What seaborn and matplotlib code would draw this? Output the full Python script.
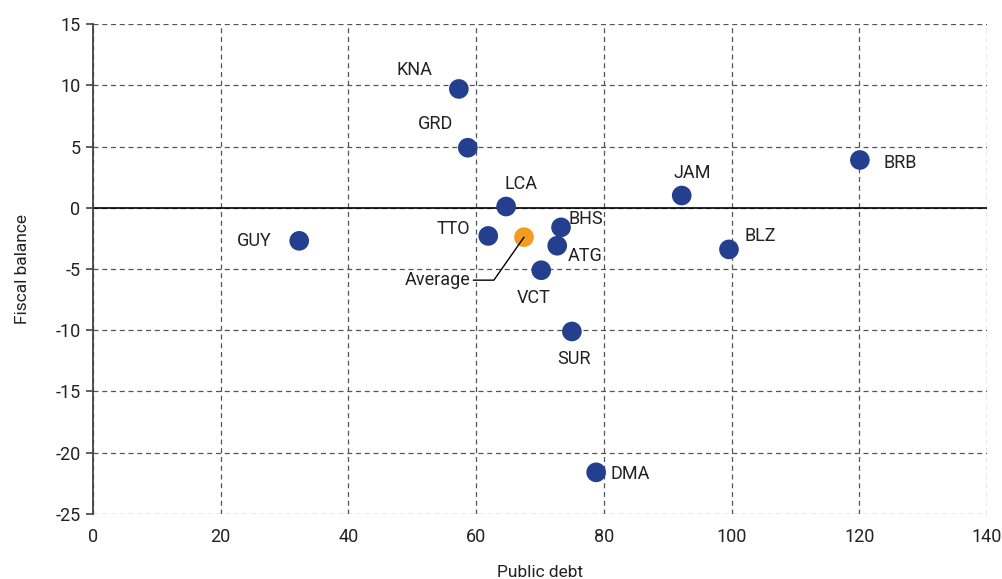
import seaborn as sns
import pandas as pd
from matplotlib import pyplot as plt

# data
countries = ['KNA', 'GRD', 'LCA', 'TTO', 'BHS', 'ATG', 'VCT', 'SUR', 'DMA', 'JAM', 'BLZ', 'BRB', 'GUY']
public_debt = [57.3, 58.7, 64.7, 61.9, 73.3, 72.7, 70.2, 75.0, 78.8, 92.2, 99.6, 120.1, 32.3]
fiscal_balance = [9.7, 4.9, 0.1, -2.3, -1.6, -3.1, -5.1, -10.1, -21.6, 1.0, -3.4, 3.9, -2.7]
avg_debt = 67.5
avg_balance = -2.4

# label offsets (pixels) from the dots
offsets = {'KNA': (-44, 19), 'GRD': (-32, 24), 'LCA': (15, 23), 'TTO': (-35, 7),
           'BHS': (25, 8), 'ATG': (28, -10), 'VCT': (-8, -28), 'SUR': (2, -28),
           'DMA': (34, -2), 'JAM': (11, 23), 'BLZ': (31, 13), 'BRB': (40, -3),
           'GUY': (-45, 0)}

df = pd.DataFrame({'country': countries, 'debt': public_debt, 'balance': fiscal_balance})

sns.set_style('white')
plt.rcParams['font.family'] = ['Roboto', 'DejaVu Sans']
plt.rcParams['axes.unicode_minus'] = False

fig = plt.figure(figsize=(10.03, 5.79), dpi=100)
ax = fig.add_axes([0.0927, 0.1123, 0.8913, 0.8462])

blue = '#243f8e'
orange = '#f39c1f'

sns.scatterplot(data=df, x='debt', y='balance', ax=ax, color=blue, s=200,
                edgecolor='none', zorder=3)
sns.scatterplot(x=[avg_debt], y=[avg_balance], ax=ax, color=orange, s=200,
                edgecolor='none', zorder=3)

for c, x, y in zip(countries, public_debt, fiscal_balance):
    dx, dy = offsets[c]
    ax.annotate(c, (x, y), xytext=(dx, dy), textcoords='offset pixels',
                ha='center', va='center', fontsize=13, color='#222222')

ax.annotate('Average', (avg_debt, avg_balance), xytext=(-54, -43), textcoords='offset pixels',
            ha='right', va='center', fontsize=13, color='#222222',
            arrowprops=dict(arrowstyle='-', color='black', lw=1,
                            connectionstyle='angle,angleA=0,angleB=55,rad=0',
                            shrinkA=0, shrinkB=0))

ax.set_xlim(0, 140)
ax.set_ylim(-25, 15)
ax.set_xticks(range(0, 141, 20))
ax.set_yticks(range(-25, 16, 5))
ax.grid(True, linestyle=(0, (4, 3)), color='#555555', lw=0.9)
ax.axhline(0, color='black', lw=1.2, zorder=2)

for side in ['top', 'right', 'bottom']:
    ax.spines[side].set_visible(False)
ax.spines['left'].set_color('#444444')
ax.spines['left'].set_linewidth(1.3)

ax.tick_params(axis='y', length=5, width=1.2, color='#444444', labelsize=13, pad=4, left=True)
ax.tick_params(axis='x', length=0, labelsize=13, pad=10)
for lab in ax.get_xticklabels() + ax.get_yticklabels():
    lab.set_color('#222222')

ax.set_xlabel('Public debt', fontsize=12.5, color='#222222', labelpad=14)
ax.set_ylabel('Fiscal balance', fontsize=12.5, color='#222222', labelpad=18)

fig.savefig('out.png', dpi=100)
